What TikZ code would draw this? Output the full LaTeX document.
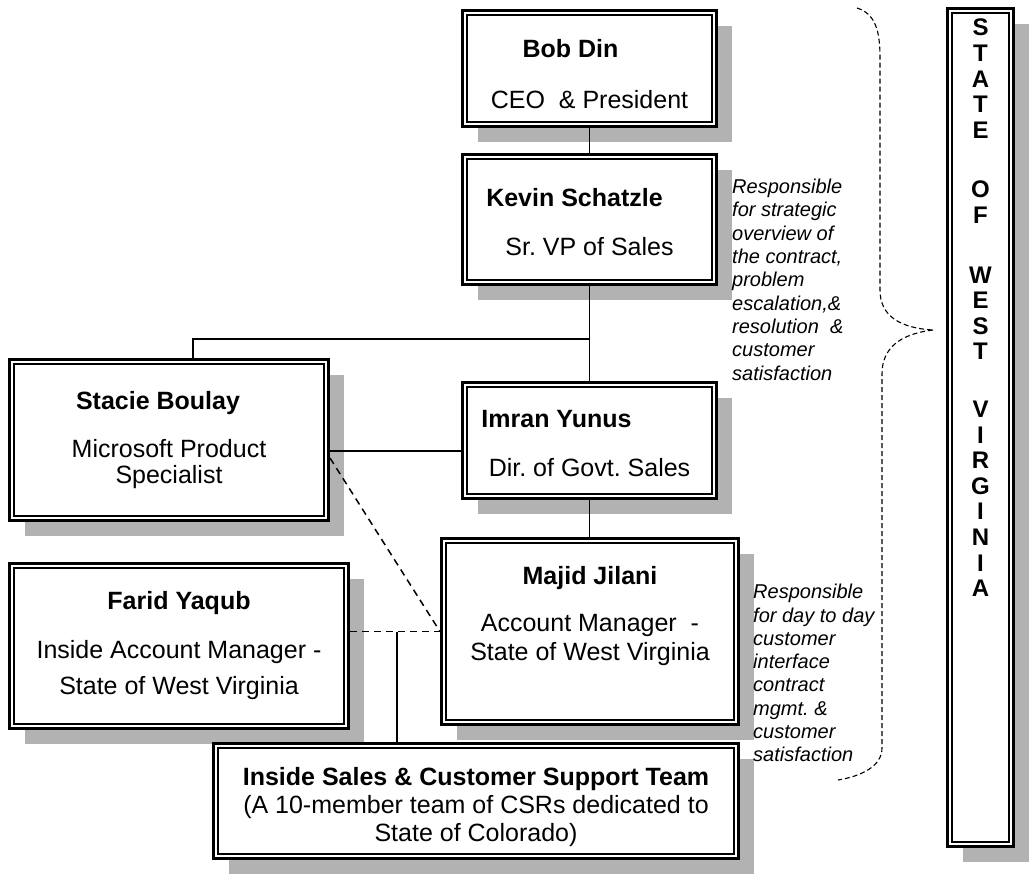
\documentclass[tikz,border=0pt]{standalone}
\usepackage{fontspec}
\setmainfont{Liberation Sans}
\frenchspacing
\usetikzlibrary{shadows}
\begin{document}
\begin{tikzpicture}[x=1pt, y=-1pt, font=\fontsize{25}{28}\selectfont,
    orgbox/.style={draw, line width=3pt, fill=white, align=center, inner sep=0pt,
      general shadow={fill=black!30, shadow xshift=15pt, shadow yshift=-15pt},
      path picture={\draw[line width=1.8pt] ([shift={(4.6pt,-4.6pt)}]path picture bounding box.north west) rectangle ([shift={(-4.6pt,4.6pt)}]path picture bounding box.south east);}},
    link/.style={line width=1.3pt},
    dashlink/.style={line width=1.5pt, dash pattern=on 7pt off 5pt},
    note/.style={font=\fontsize{20}{23.3}\selectfont\itshape, align=left, anchor=north west, inner sep=0pt}]
    \useasboundingbox (0,0) rectangle (1030,873);
    \node[orgbox, minimum width=254pt, minimum height=116pt] (bob) at (589.5,68.5) {\rule{0pt}{29pt}\textbf{Bob Din}\hspace*{38pt}\\[23pt]CEO \ \& President};
    \node[orgbox, minimum width=254pt, minimum height=130pt] (kevin) at (589.5,219.5) {\rule{0pt}{24pt}\textbf{Kevin Schatzle}\hspace*{30pt}\\[21pt]Sr. VP of Sales};
    \node[orgbox, minimum width=254pt, minimum height=116pt] (imran) at (589.5,440.5) {\rule{0pt}{24pt}\textbf{Imran Yunus}\hspace*{66pt}\\[21pt]Dir. of Govt. Sales};
    \node[orgbox, minimum width=319pt, minimum height=161pt] (stacie) at (169,440) {\textbf{Stacie Boulay}\hspace*{22pt}\\[20pt]Microsoft Product\\[-2pt]Specialist};
    \node[orgbox, minimum width=339pt, minimum height=165pt] (farid) at (179,646) {\textbf{Farid Yaqub}\\[21pt]Inside Account Manager -\\[8pt]State of West Virginia};
    \node[orgbox, minimum width=297pt, minimum height=186pt] (majid) at (590,631.5) {\textbf{Majid Jilani}\\[19pt]Account Manager \ -\\[1pt]State of West Virginia\\[8pt]\mbox{}};
    \node[orgbox, minimum width=525pt, minimum height=115pt] (team) at (476,801) {\rule{0pt}{30pt}\textbf{Inside Sales \& Customer Support Team}\\(A 10-member team of CSRs dedicated to\\State of Colorado)};
    \node[orgbox, minimum width=66pt, minimum height=838pt] (wv) at (980.5,427.5) {};
    \node[anchor=north, align=center, inner sep=0pt, font=\fontsize{24}{25.6}\selectfont\bfseries] (wvtext) at (980.5,19) {S\\T\\A\\T\\E\\[34pt]O\\F\\[34pt]W\\E\\S\\T\\[32pt]V\\I\\R\\G\\I\\N\\I\\A};
    \node[note] (note1) at (732,179) {Responsible\\for strategic\\overview of\\the contract,\\problem\\escalation,\&\\resolution \ \&\\customer\\satisfaction};
    \node[note] (note2) at (753,584) {Responsible\\for day to day\\customer\\interface\\contract\\mgmt. \&\\customer\\satisfaction};
    \coordinate (jn) at (589.5,339);
    \coordinate (jnleft) at (193,339);
    \coordinate (tap) at (397,632);
    \draw[link] (bob) -- (kevin);
    \draw[link] (kevin) -- (imran);
    \draw[link] (jn) -- (jnleft) -- (jnleft |- stacie.north);
    \draw[link] (stacie.east |- 0,451) -- (imran.west |- 0,451);
    \draw[link] (imran.south) -- (imran.south |- majid.north);
    \draw[dashlink] (stacie.east |- 0,458) -- (majid.west);
    \draw[dashlink] (farid.east |- majid.west) -- (majid.west);
    \draw[link] (tap) -- (tap |- team.north);
    \draw[line width=1.1pt, dash pattern=on 5pt off 3pt] (857,8) .. controls (876,14) and (880,32) .. (880,58) -- (880,290) .. controls (880,316) and (900,328) .. (933,330)
      (933,330) .. controls (900,334) and (882,348) .. (882,374) -- (882,748) .. controls (882,766) and (862,776) .. (838,780);
\end{tikzpicture}
\end{document}
